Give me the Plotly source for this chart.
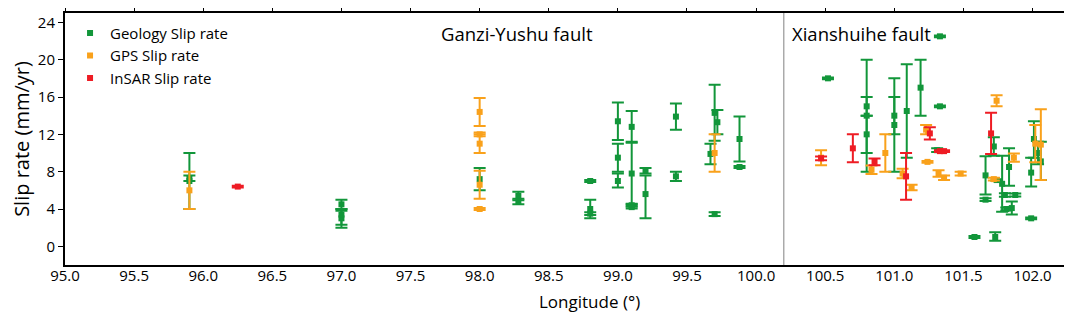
import plotly.graph_objects as go

# ---------------- data ----------------
geo_lon = [95.90, 95.90, 97.00, 97.00, 97.00, 98.00, 98.28, 98.28, 98.80, 98.80,
           98.80, 99.00, 99.00, 99.00, 99.10, 99.10, 99.10, 99.10, 99.20, 99.20,
           99.42, 99.42, 99.70, 99.72, 99.67, 99.70, 99.88, 99.88,
           100.52, 100.80, 100.80, 100.80, 101.00, 101.00, 101.09, 101.19, 101.33, 101.33,
           101.31, 101.58, 101.66, 101.66, 101.72, 101.74, 101.73, 101.78, 101.80, 101.81,
           101.85, 101.875, 101.83, 101.99, 101.99, 102.01, 102.04, 102.06]
geo_rate = [7.0, 7.3, 4.5, 3.0, 3.4, 7.2, 5.4, 4.8, 7.0, 4.0,
            3.5, 13.4, 9.5, 7.0, 12.8, 7.8, 4.4, 4.2, 8.1, 5.6,
            13.9, 7.5, 14.3, 13.3, 9.9, 3.45, 11.5, 8.5,
            18.0, 15.0, 14.0, 12.0, 13.0, 14.0, 14.5, 17.0, 22.5, 15.0,
            10.3, 1.0, 7.6, 5.0, 10.7, 7.1, 1.0, 6.7, 5.5, 4.0,
            4.1, 5.5, 8.5, 3.0, 7.9, 11.5, 10.0, 9.1]
geo_eplus = [3.0, 0.3, 0.5, 1.0, 0.4, 1.2, 0.45, 0.3, 0.1, 1.0,
             0.15, 2.0, 1.5, 0.8, 1.7, 3.4, 0.15, 0.15, 0.3, 2.0,
             1.4, 0.5, 3.0, 1.3, 1.1, 0.2, 2.4, 0.1,
             0.1, 1.0, 6.0, 2.0, 5.0, 2.0, 5.0, 3.0, 0.1, 0.1,
             0.2, 0.1, 2.05, 0.15, 1.0, 0.1, 0.5, 3.0, 0.2, 0.15,
             0.7, 0.15, 2.0, 0.1, 1.6, 1.9, 1.2, 2.1]
geo_eminus = [3.0, 0.3, 0.5, 1.0, 1.1, 1.2, 0.45, 0.3, 0.1, 1.0,
              0.15, 2.0, 1.5, 0.7, 1.7, 3.3, 0.15, 0.15, 0.3, 2.6,
              1.4, 0.5, 3.0, 1.3, 1.1, 0.2, 2.4, 0.1,
              0.1, 1.0, 6.0, 2.0, 5.0, 2.0, 5.0, 3.0, 0.1, 0.1,
              0.2, 0.1, 2.05, 0.15, 1.0, 0.1, 0.4, 3.0, 0.2, 0.15,
              0.7, 0.15, 2.0, 0.1, 1.5, 2.0, 1.2, 2.0]

gps_lon = [95.90, 98.00, 98.00, 98.00, 98.00, 98.00, 99.70, 100.47, 100.835, 100.935,
           101.06, 101.125, 101.23, 101.24, 101.32, 101.36, 101.48, 101.74, 101.72, 101.865,
           102.02, 102.06]
gps_rate = [6.0, 14.4, 12.0, 11.0, 6.6, 4.0, 10.0, 9.5, 8.2, 10.0,
            7.8, 6.3, 12.5, 9.05, 7.8, 7.35, 7.8, 15.6, 7.2, 9.5,
            11.0, 10.9]
gps_err = [2.0, 1.5, 0.2, 1.0, 1.5, 0.1, 2.0, 0.8, 0.45, 2.0,
           0.5, 0.3, 0.5, 0.1, 0.35, 0.25, 0.2, 0.6, 0.15, 0.45,
           2.0, 3.8]

insar_lon = [96.25, 100.47, 100.70, 100.857, 101.085, 101.257, 101.33, 101.36, 101.70]
insar_rate = [6.4, 9.43, 10.5, 9.05, 7.5, 12.1, 10.2, 10.2, 12.1]
insar_err = [0.1, 0.2, 1.5, 0.35, 2.5, 0.65, 0.1, 0.1, 2.2]

x_ticks = [95.0, 95.5, 96.0, 96.5, 97.0, 97.5, 98.0, 98.5, 99.0, 99.5,
           100.0, 100.5, 101.0, 101.5, 102.0]
y_ticks = [0, 4, 8, 12, 16, 20, 24]
divider_lon = 100.2
fault_labels = ["Ganzi-Yushu fault", "Xianshuihe fault"]
fault_label_lon = [98.27, 100.765]

GREEN = "#12963a"
ORANGE = "#f9a11b"
RED = "#ee1c24"
FONT = "Open Sans"

fig = go.Figure()


def add_series(name, xs, ys, ep, em, color):
    fig.add_trace(go.Scatter(
        x=xs, y=ys, mode="markers", name=name,
        marker=dict(symbol="square", size=6, color=color),
        error_y=dict(type="data", symmetric=False, array=ep, arrayminus=em,
                     color=color, thickness=2, width=6),
    ))


add_series("Geology Slip rate", geo_lon, geo_rate, geo_eplus, geo_eminus, GREEN)
add_series("GPS Slip rate", gps_lon, gps_rate, gps_err, gps_err, ORANGE)
add_series("InSAR Slip rate", insar_lon, insar_rate, insar_err, insar_err, RED)

# invisible trace to carry the top x-axis (tick marks only)
fig.add_trace(go.Scatter(x=[x_ticks[0]], y=[y_ticks[0]], xaxis="x2", mode="markers",
                         marker=dict(opacity=0), showlegend=False, hoverinfo="skip"))

fig.add_shape(type="line", x0=divider_lon, x1=divider_lon, y0=0, y1=1, yref="paper",
              xref="x", line=dict(color="#aaaaaa", width=1.5))

for txt, lon in zip(fault_labels, fault_label_lon):
    fig.add_annotation(x=lon, y=22.8, text=txt, showarrow=False, yanchor="middle",
                       font=dict(family=FONT, size=18.5, color="black"))

# x-axis title (slightly right of centre, as in the reference)
fig.add_annotation(x=0.5195, y=-0.145, xref="paper", yref="paper", yanchor="middle",
                   text="Longitude (°)", showarrow=False,
                   font=dict(family=FONT, size=17, color="black"))

xr = [95.0, 102.3]
fig.update_layout(
    width=1072, height=316,
    margin=dict(l=57, r=6, t=5, b=59),
    paper_bgcolor="white", plot_bgcolor="white",
    font=dict(family=FONT, size=14, color="black"),
    showlegend=True,
    legend=dict(x=0.005, y=0.985, xanchor="left", yanchor="top",
                bgcolor="rgba(0,0,0,0)", font=dict(family=FONT, size=15),
                itemwidth=30, tracegroupgap=0),
    xaxis=dict(range=xr, tickvals=x_ticks, ticktext=[f"{v:.1f}" for v in x_ticks],
               showgrid=False, zeroline=False, showline=True, linecolor="black",
               linewidth=2, mirror=True, ticks="", automargin=False,
               ticklabelstandoff=-4,
               tickfont=dict(family=FONT, size=15)),
    xaxis2=dict(range=xr, overlaying="x", side="top", tickvals=x_ticks,
                showticklabels=False, showgrid=False, zeroline=False,
                ticks="outside", ticklen=5, tickwidth=1.2, tickcolor="black",
                showline=False, automargin=False),
    yaxis=dict(range=[-2, 25], tickvals=y_ticks, showgrid=False, zeroline=False,
               showline=True, linecolor="black", linewidth=2, mirror="ticks",
               ticks="outside", ticklen=5, tickwidth=1.2, tickcolor="black",
               automargin=False,
               title=dict(text="Slip rate (mm/yr)", font=dict(family=FONT, size=20), standoff=4),
               tickfont=dict(family=FONT, size=15)),
)

fig.write_html("out.html")
